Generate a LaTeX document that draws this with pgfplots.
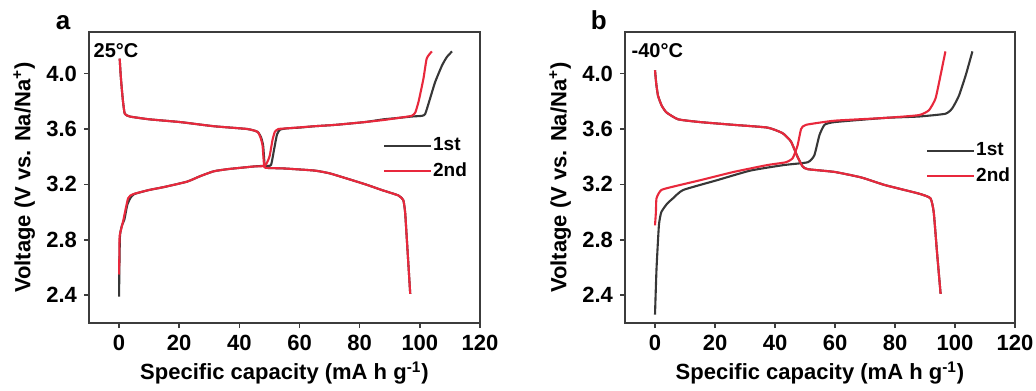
\documentclass[border=0pt]{standalone}
\usepackage{fontspec}
\setmainfont{Liberation Sans}
\usepackage{pgfplots}
\pgfplotsset{compat=1.18}
\definecolor{cblack}{RGB}{55,55,55}
\definecolor{cred}{RGB}{232,40,60}
\definecolor{frame}{RGB}{60,60,60}
\pgfplotsset{
 panel/.style={
  scale only axis, width=195.5pt, height=145.5pt,
  xmin=-10, xmax=120, ymin=2.2, ymax=4.3,
  xtick={0,20,...,120}, ytick={2.4,2.8,3.2,3.6,4.0},
  tick pos=left, tick align=outside, major tick length=2.5pt,
  axis line style={frame, line width=0.9pt},
  every tick/.style={frame, line width=0.8pt},
  /pgf/number format/assume math mode=true,
  y tick label style={/pgf/number format/fixed, /pgf/number format/fixed zerofill, /pgf/number format/precision=1},
  tick label style={font=\fontsize{11}{13}\selectfont\bfseries},
  xlabel={Specific capacity (mA h g\textsuperscript{-1})},
  ylabel={Voltage (V vs. Na/Na\textsuperscript{+})},
  label style={font=\fontsize{11}{13}\selectfont\bfseries},
  xlabel style={at={(axis description cs:0.5,-0.172)}, anchor=center},
  ylabel style={at={(axis description cs:-0.166,0.5)}, anchor=center},
  legend style={draw=none, fill=none, inner sep=0pt, outer sep=0pt,
    font=\fontsize{9.5}{10}\selectfont\bfseries, anchor=west, row sep=3.5pt,
    nodes={inner sep=0.5pt}},
  legend image code/.code={\draw[#1] (0pt,0pt) -- (23.5pt,0pt);},
  legend cell align=left,
  clip=false,
  every axis plot/.append style={line width=1.05pt, line join=round, smooth, tension=0.3},
 }
}
\begin{document}
\begin{tikzpicture}
\path[use as bounding box] (0,0) rectangle (518pt,195pt);
% ---------- panel a ----------
\begin{axis}[panel, at={(44.5pt,33.5pt)}, anchor=south west,
  legend style={at={(axis description cs:0.752,0.565)}}]
\addplot[cblack] coordinates {(0,2.39) (0.1,2.6) (0.3,2.83) (0.9,2.9) (1.8,2.95) (2.7,3.05) (3.7,3.10) (5,3.13) (10,3.16) (14.7,3.18) (22.6,3.22) (27,3.26) (31.5,3.295) (36,3.31) (40.4,3.32) (45,3.33) (48.5,3.335) (50.5,3.34) (51.6,3.46) (52.5,3.56) (53.5,3.595) (56,3.605) (60,3.61) (65,3.62) (72,3.63) (81.7,3.65) (88,3.67) (92.9,3.68) (97.3,3.69) (100.7,3.695) (101.8,3.71) (103.4,3.82) (105.1,3.94) (107.4,4.06) (109,4.12) (110.7,4.16)};
\addlegendentry{1st}
\addplot[cblack, forget plot] coordinates {(0.2,4.108) (0.5,4.0) (0.8,3.916) (1.3,3.80) (1.9,3.71) (3.6,3.69) (10,3.67) (20.3,3.65) (31.5,3.62) (42.6,3.60) (46,3.58) (47.2,3.54) (47.9,3.48) (48.4,3.34) (48.9,3.32) (55,3.315) (65,3.30) (70,3.28) (76.1,3.24) (82,3.20) (87.3,3.16) (92.9,3.12) (94.5,3.086) (95.1,3.0) (95.6,2.83) (96.2,2.62) (96.8,2.41)};
\addplot[cred] coordinates {(0,2.55) (0.1,2.7) (0.2,2.83) (1.3,2.93) (3,3.10) (4.7,3.13) (10,3.16) (14.7,3.18) (22.6,3.22) (27,3.26) (31.5,3.295) (36,3.31) (40.4,3.32) (45,3.33) (48.5,3.335) (50,3.40) (51,3.52) (51.8,3.58) (53,3.60) (56,3.605) (65,3.62) (72,3.63) (81.7,3.65) (88,3.665) (92.9,3.68) (97.3,3.695) (98.5,3.72) (99.6,3.80) (101.2,3.964) (102.3,4.11) (104,4.16)};
\addlegendentry{2nd}
\addplot[cred, forget plot] coordinates {(0.2,4.108) (0.5,4.0) (0.8,3.916) (1.3,3.80) (1.9,3.71) (3.6,3.69) (10,3.67) (20.3,3.65) (31.5,3.62) (42.6,3.60) (46,3.58) (47,3.54) (47.7,3.48) (48.2,3.34) (48.7,3.32) (55,3.315) (65,3.30) (70,3.28) (76.1,3.24) (82,3.20) (87.3,3.16) (92.9,3.12) (94.5,3.086) (95.1,3.0) (95.6,2.83) (96.2,2.62) (96.8,2.41)};
\node[anchor=base west, font=\fontsize{10}{12}\selectfont\bfseries, inner sep=0pt] at (rel axis cs:0.011,0.911) {25°C};
\node[anchor=base, font=\fontsize{13}{15}\selectfont\bfseries, inner sep=0pt] at (rel axis cs:-0.066,1.007) {a};
\end{axis}
% ---------- panel b ----------
\begin{axis}[panel, at={(312.5pt,33.5pt)}, anchor=south west, width=195pt,
  legend style={at={(axis description cs:0.772,0.548)}}]
\addplot[cblack] coordinates {(0,2.26) (0.5,2.59) (1.3,2.905) (2.1,3.00) (4,3.06) (6,3.10) (9.4,3.16) (20.6,3.23) (31.8,3.30) (43,3.34) (50.9,3.36) (53.1,3.41) (54.8,3.555) (56.5,3.63) (59.9,3.65) (76.7,3.68) (87.9,3.69) (96.8,3.71) (99.1,3.75) (101.3,3.84) (103.6,3.99) (105.8,4.16)};
\addlegendentry{1st}
\addplot[cblack, forget plot] coordinates {(0,4.024) (0.4,3.93) (1,3.84) (2.2,3.77) (3.8,3.72) (7.7,3.67) (15,3.65) (26.2,3.63) (37.5,3.61) (42.5,3.57) (45.3,3.51) (47.5,3.40) (49.2,3.33) (50.9,3.31) (59.9,3.29) (68.8,3.25) (76.7,3.195) (87.9,3.134) (91.8,3.10) (92.9,3.00) (94,2.71) (95.2,2.41)};
\addplot[cred] coordinates {(0,2.905) (0.3,3.0) (0.5,3.10) (2.1,3.16) (7.2,3.19) (15,3.23) (26.2,3.29) (37.5,3.34) (43.6,3.36) (45.9,3.39) (47.5,3.48) (48.7,3.60) (50.3,3.63) (59.9,3.66) (76.7,3.68) (87.9,3.70) (91.3,3.735) (93.5,3.82) (95.2,3.99) (96.8,4.16)};
\addlegendentry{2nd}
\addplot[cred, forget plot] coordinates {(0,4.024) (0.4,3.93) (1,3.84) (2.2,3.77) (3.8,3.72) (7.7,3.67) (15,3.65) (26.2,3.63) (37.5,3.61) (42.5,3.57) (45.3,3.51) (47.5,3.40) (49.2,3.33) (50.9,3.31) (59.9,3.29) (68.8,3.25) (76.7,3.195) (87.9,3.134) (91.8,3.10) (92.9,3.00) (94,2.71) (95.2,2.41)};
\node[anchor=base west, font=\fontsize{10}{12}\selectfont\bfseries, inner sep=0pt] at (rel axis cs:0.016,0.911) {-40°C};
\node[anchor=base, font=\fontsize{13}{15}\selectfont\bfseries, inner sep=0pt] at (rel axis cs:-0.067,1.007) {b};
\end{axis}
\end{tikzpicture}
\end{document}
